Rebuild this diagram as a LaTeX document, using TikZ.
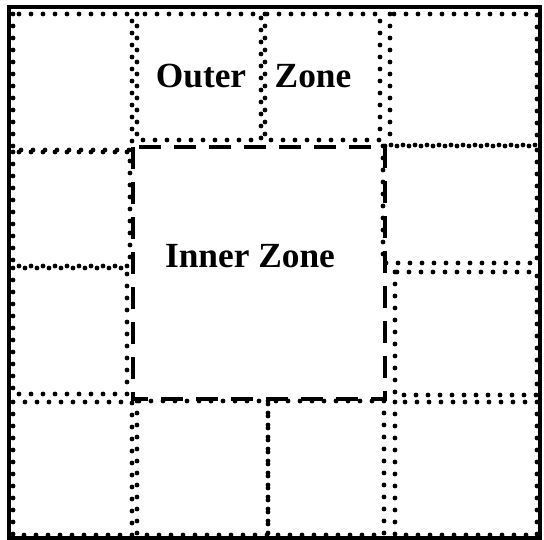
\documentclass[tikz,border=0pt]{standalone}
\usepackage{fontspec}
\setmainfont{Liberation Serif}
\begin{document}
\begin{tikzpicture}[x=0.75pt,y=-0.75pt,
  cellbox/.style={line width=3.6pt, line cap=round, dash pattern=on 0pt off 9pt},
  innerbox/.style={line width=2.8pt, dash pattern=on 16.5pt off 9.75pt},
  zonelabel/.style={anchor=base, inner sep=0pt, font=\fontsize{26.5}{31}\selectfont\bfseries}]
\useasboundingbox (0,0) rectangle (544,540);
% outer frame
\draw[line width=3pt] (8.5,6.5) rectangle (540,537.5);
% inner zone
\draw[innerbox] (133,147) rectangle (385,399);
% outer zone cells, top row
\draw[cellbox] (13,14) rectangle (132,150);
\draw[cellbox] (137,14) rectangle (261,140);
\draw[cellbox] (265,14) rectangle (380,140);
\draw[cellbox] (390,14) rectangle (537,145);
% left and right columns
\draw[cellbox] (13,152) rectangle (130,266);
\draw[cellbox] (13,268) rectangle (127,394);
\draw[cellbox] (383,146) rectangle (537,263);
\draw[cellbox] (395,272) rectangle (537,395);
% bottom row
\draw[cellbox] (13,402) rectangle (132,535);
\draw[cellbox] (137,401) rectangle (268,535);
\draw[cellbox] (268,401) rectangle (384,535);
\draw[cellbox] (395,402) rectangle (537,535);
% labels
\node[zonelabel] (outer) at (201,87) {Outer};
\node[zonelabel] (zone) at (313,87) {Zone};
\node[zonelabel] (inner) at (250,267) {Inner Zone};
\end{tikzpicture}
\end{document}
